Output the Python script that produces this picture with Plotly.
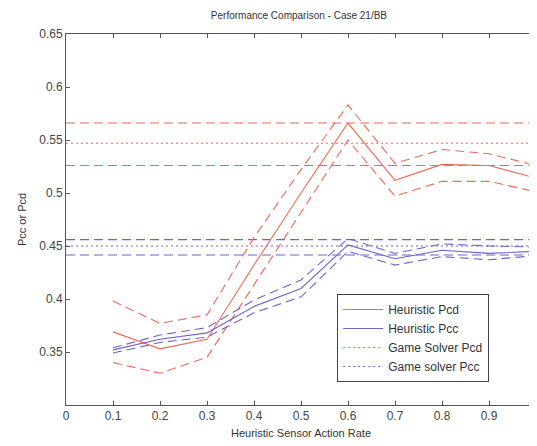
import plotly.graph_objects as go

# ---- data ----
rates = [0.1, 0.2, 0.3, 0.4, 0.5, 0.6, 0.7, 0.8, 0.9, 1.0]

heur_pcd       = [0.369, 0.353, 0.362, 0.432, 0.500, 0.566, 0.512, 0.527, 0.526, 0.514]
heur_pcd_upper = [0.398, 0.377, 0.385, 0.458, 0.522, 0.583, 0.528, 0.541, 0.537, 0.526]
heur_pcd_lower = [0.340, 0.330, 0.345, 0.413, 0.482, 0.550, 0.497, 0.511, 0.511, 0.501]

heur_pcc       = [0.352, 0.362, 0.368, 0.393, 0.410, 0.451, 0.438, 0.446, 0.443, 0.445]
heur_pcc_upper = [0.354, 0.366, 0.373, 0.399, 0.418, 0.457, 0.443, 0.452, 0.450, 0.449]
heur_pcc_lower = [0.349, 0.359, 0.364, 0.387, 0.402, 0.445, 0.432, 0.440, 0.437, 0.441]

game_x = [0.0, 1.0]
game_pcd = 0.547
game_pcd_upper = 0.566
game_pcd_lower = 0.526
game_pcc = 0.450
game_pcc_upper = 0.456
game_pcc_lower = 0.4415

x_ticks = [0, 0.1, 0.2, 0.3, 0.4, 0.5, 0.6, 0.7, 0.8, 0.9, 1]
x_tick_labels = ["0", "0.1", "0.2", "0.3", "0.4", "0.5", "0.6", "0.7", "0.8", "0.9", "1"]
y_ticks = [0.35, 0.4, 0.45, 0.5, 0.55, 0.6, 0.65]
y_tick_labels = ["0.35", "0.4", "0.45", "0.5", "0.55", "0.6", "0.65"]

RED = "#ec6a55"
BLUE = "#6f62cc"
DASH = "9px,5px"
DOT = "2px,3px"

fig = go.Figure()

def add(x, y, color, dash, name=None, show=False):
    fig.add_trace(go.Scatter(
        x=x, y=y, mode="lines", name=name, showlegend=show,
        line=dict(color=color, width=1.1, dash=dash)))

# game solver horizontal bands
add(game_x, [game_pcd_upper] * 2, RED, DASH)
add(game_x, [game_pcd_lower] * 2, RED, DASH)
add(game_x, [game_pcc_upper] * 2, BLUE, DASH)
add(game_x, [game_pcc_lower] * 2, BLUE, DASH)

# heuristic bounds
add(rates, heur_pcd_upper, RED, DASH)
add(rates, heur_pcd_lower, RED, DASH)
add(rates, heur_pcc_upper, BLUE, DASH)
add(rates, heur_pcc_lower, BLUE, DASH)

# legend traces
add(rates, heur_pcd, RED, "solid", "Heuristic Pcd", True)
add(rates, heur_pcc, BLUE, "solid", "Heuristic Pcc", True)
add(game_x, [game_pcd] * 2, RED, DOT, "Game Solver Pcd", True)
add(game_x, [game_pcc] * 2, BLUE, DOT, "Game solver Pcc", True)

axis_common = dict(
    showgrid=False, zeroline=False, showline=True, mirror="ticks",
    linecolor="#555555", linewidth=1, ticks="inside", ticklen=4,
    tickcolor="#555555", tickfont=dict(size=12, color="#444444"),
)

# page body has an 8px margin, so the figure is sized to fill the rest
fig.update_layout(
    width=529, height=438,
    margin=dict(l=58, r=1, t=26, b=41),
    paper_bgcolor="white", plot_bgcolor="white",
    font=dict(family="Liberation Sans, Arial, sans-serif", color="#333333"),
    title=dict(text="Performance Comparison - Case 21/BB", x=0.55, xanchor="center",
               y=0.984, yanchor="middle", font=dict(size=10, color="#333333")),
    xaxis=dict(range=[0, 1], tickvals=x_ticks, ticktext=x_tick_labels,
               title=dict(text="Heuristic Sensor Action Rate", font=dict(size=11), standoff=6),
               **axis_common),
    yaxis=dict(range=[0.3, 0.65], tickvals=y_ticks, ticktext=y_tick_labels,
               title=dict(text="Pcc or Pcd", font=dict(size=11), standoff=10),
               **axis_common),
    legend=dict(x=0.577, y=0.299, xanchor="left", yanchor="top",
                bordercolor="#444444", borderwidth=1, bgcolor="white",
                font=dict(size=12, color="#333333"), tracegroupgap=0,
                itemwidth=40),
    showlegend=True,
)

fig.write_html("out.html")
